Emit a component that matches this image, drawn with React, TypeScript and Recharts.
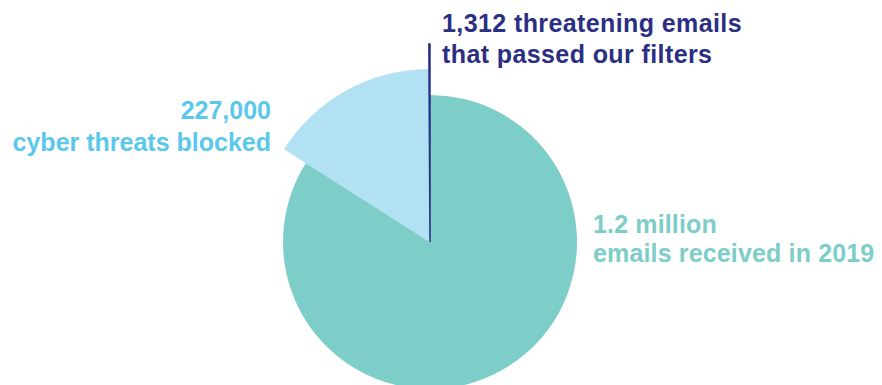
import React from 'react';
import { PieChart, Pie, Cell } from 'recharts';

const segments = ['threatening emails', 'cyber threats blocked', 'emails received'];
const values = [1312, 227000, 1200000];
const sliceColors = ['#2b2f84', '#b1e1f2', '#7dcdc8'];
// each slice is drawn at its own length
const radii = [198, 173, 147];

const data = segments.map((name, i) => ({ name, value: values[i] }));

const font = '"Liberation Sans", Arial, sans-serif';

const App: React.FC = () => {
  return (
    <div style={{ position: 'absolute', left: 0, top: 0, width: 882, height: 385, background: '#fff' }}>
      <PieChart width={882} height={385} margin={{ top: 0, right: 0, bottom: 0, left: 0 }}>
        {[2, 1, 0].map((layer) => (
          <Pie
            key={layer}
            data={data}
            dataKey="value"
            cx={430}
            cy={242}
            innerRadius={0}
            outerRadius={radii[layer]}
            startAngle={90}
            endAngle={450}
            isAnimationActive={false}
            stroke="none"
          >
            {data.map((d, i) => (
              <Cell
                key={d.name}
                fill={i === layer ? sliceColors[i] : 'none'}
                stroke={i === layer && i === 0 ? sliceColors[0] : 'none'}
                strokeWidth={i === 0 ? 1.5 : 0}
              />
            ))}
          </Pie>
        ))}
      </PieChart>

      <div
        style={{
          position: 'absolute',
          left: 0,
          top: 94,
          width: 271,
          textAlign: 'right',
          fontFamily: font,
          fontWeight: 700,
          fontSize: 25,
          lineHeight: '32px',
          color: '#5bc8eb',
        }}
      >
        <div>227,000</div>
        <div>cyber threats blocked</div>
      </div>

      <div
        style={{
          position: 'absolute',
          left: 442,
          top: 8,
          fontFamily: font,
          fontWeight: 700,
          fontSize: 25,
          lineHeight: '31px',
          letterSpacing: '0.4px',
          color: '#2b2f84',
          whiteSpace: 'nowrap',
        }}
      >
        <div>1,312 threatening emails</div>
        <div>that passed our filters</div>
      </div>

      <div
        style={{
          position: 'absolute',
          left: 593,
          top: 210,
          fontFamily: font,
          fontWeight: 700,
          fontSize: 25,
          lineHeight: '29px',
          letterSpacing: '0.15px',
          color: '#7dcdc8',
          whiteSpace: 'nowrap',
        }}
      >
        <div>1.2 million</div>
        <div>emails received in 2019</div>
      </div>
    </div>
  );
};

export default App;
